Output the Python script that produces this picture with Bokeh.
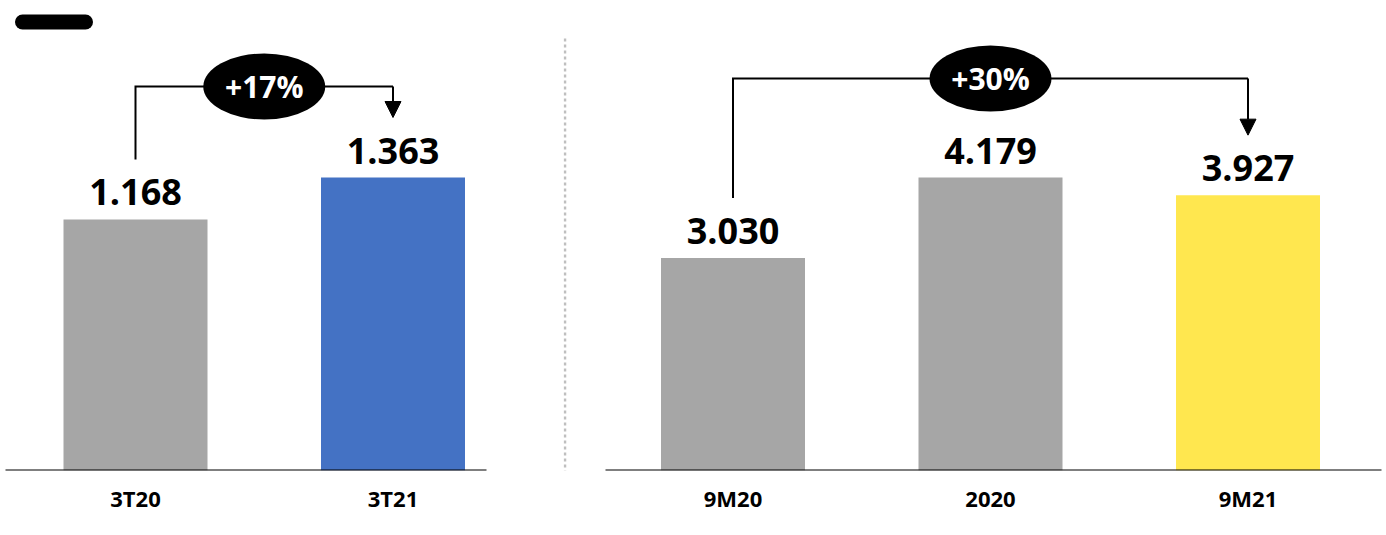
from bokeh.plotting import figure
from bokeh.layouts import row
from bokeh.models import Range1d, FixedTicker, Arrow, NormalHead
from bokeh.core.properties import value
from bokeh.embed import file_html
from bokeh.resources import INLINE

# Quarterly comparison
q_labels = ["3T20", "3T21"]
q_values = [1.168, 1.363]
q_colors = ["#a6a6a6", "#4472c4"]
q_growth = "+17%"

# Year-to-date comparison
ytd_labels = ["9M20", "2020", "9M21"]
ytd_values = [3.030, 4.179, 3.927]
ytd_colors = ["#a6a6a6", "#a6a6a6", "#ffe74f"]
ytd_growth = "+30%"

FONT = "Open Sans"
HEIGHT = 535
BASE_PX = 470          # height of the plotting frame (baseline position)
TALLEST_PX = 293       # pixel height of the tallest bar in each panel
SLOT_PX = 257.5        # distance between bar centres
BAR_PX = 144           # bar width
LABEL_GAP_PX = 60      # gap between bar top and bracket end
VALUE_GAP_PX = 27      # lift of the value label anchor above the bar top


def panel(labels, values, colors, growth, src, dst, width, first_px,
          base_from_px, base_to_px, bracket_px, separator=False, pill=False):
    n = len(labels)
    px_per_unit = TALLEST_PX / max(values)
    x_start = -first_px / SLOT_PX
    x_end = (width - first_px) / SLOT_PX

    def xd(px):
        return (px - first_px) / SLOT_PX

    def yd(px):
        return (BASE_PX - px) / px_per_unit

    p = figure(width=width, height=HEIGHT, output_backend="svg",
               toolbar_location=None, y_axis_location=None,
               x_range=Range1d(x_start, x_end),
               y_range=Range1d(0, BASE_PX / px_per_unit),
               min_border_left=0, min_border_right=0, min_border_top=0,
               min_border_bottom=HEIGHT - BASE_PX)
    p.outline_line_color = None
    p.grid.visible = False
    p.background_fill_color = "white"
    p.border_fill_color = "white"

    xs = list(range(n))
    p.vbar(x=xs, top=values, bottom=0, width=BAR_PX / SLOT_PX,
           fill_color=colors, line_color=None)

    # baseline
    p.line([xd(base_from_px), xd(base_to_px)], [0, 0],
           line_color="black", line_width=2)

    # value labels
    p.text(x=xs, y=[v + VALUE_GAP_PX / px_per_unit for v in values],
           text=[f"{v:.3f}" for v in values],
           text_align="center", text_baseline="alphabetic",
           text_font=value(FONT), text_font_style="bold",
           text_font_size="36px", text_color="black")

    # growth bracket
    y_top = yd(bracket_px)
    y_from = values[src] + LABEL_GAP_PX / px_per_unit
    y_to = values[dst] + LABEL_GAP_PX / px_per_unit
    p.line([src, src, dst], [y_from, y_top, y_top], line_color="black",
           line_width=2, line_join="miter")
    p.add_layout(Arrow(x_start=dst, y_start=y_top, x_end=dst, y_end=y_to,
                       line_color="black", line_width=2,
                       end=NormalHead(size=16, fill_color="black",
                                      line_color="black")))
    mid = (src + dst) / 2
    p.ellipse(x=[mid], y=[y_top], width=122, height=66,
              width_units="screen", height_units="screen",
              fill_color="black", line_color=None)
    p.text(x=[mid], y=[y_top], text=[growth], text_align="center",
           text_baseline="middle", text_font=value(FONT),
           text_font_style="bold", text_font_size="30px",
           text_color="white")

    if separator:
        p.line([xd(1.5), xd(1.5)], [yd(HEIGHT + 10), yd(37)],
               line_color="#bfbfbf", line_width=2.5, line_dash="3 3")
    if pill:
        p.line([xd(22), xd(85)], [yd(21.5), yd(21.5)], line_color="black",
               line_width=15, line_cap="round")

    ax = p.xaxis[0]
    ax.ticker = FixedTicker(ticks=xs)
    ax.major_label_overrides = {i: lab for i, lab in enumerate(labels)}
    ax.axis_line_color = None
    ax.major_tick_line_color = None
    ax.minor_tick_line_color = None
    ax.major_tick_out = 0
    ax.major_tick_in = 0
    ax.major_label_standoff = 12
    ax.major_label_text_font = FONT
    ax.major_label_text_font_style = "bold"
    ax.major_label_text_font_size = "22px"
    ax.major_label_text_color = "black"
    return p


left = panel(q_labels, q_values, q_colors, q_growth, 0, 1,
             width=563, first_px=135, base_from_px=5, base_to_px=486,
             bracket_px=86, pill=True)
right = panel(ytd_labels, ytd_values, ytd_colors, ytd_growth, 0, 2,
              width=823, first_px=169.5, base_from_px=42, base_to_px=818,
              bracket_px=78, separator=True)

layout = row(left, right, spacing=0)
open("out.html", "w").write(file_html(layout, INLINE))
